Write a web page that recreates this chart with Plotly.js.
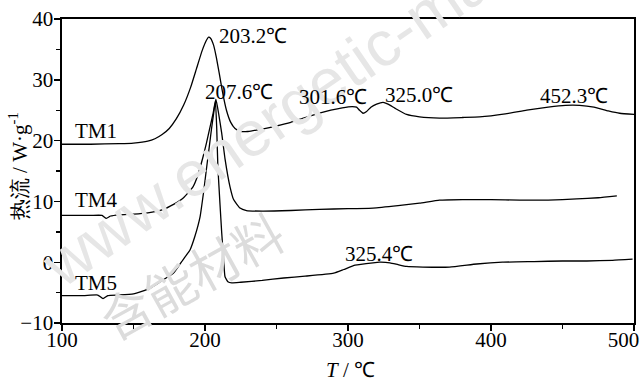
<!DOCTYPE html>
<html>
<head>
<meta charset="utf-8">
<script src="https://cdn.plot.ly/plotly-3.0.1.min.js"></script>
<style>html,body{margin:0;padding:0;background:#fff;}#chart{width:643px;height:383px;}</style>
</head>
<body>
<div id="chart"></div>
<script>
// TM1 curve
const tm1X = [100,120,140,150,160,165,170,175,180,185,190,194,198,201,202.5,204,206,208,210,212,215,218,221,225,230,240,250,260,270,280,288,296,303,306,308,310.5,313,316,320,324.5,328,333,341,350,364,380,392,410,425,440,452,462,472,482,490,500];
const tm1Y = [19.4,19.4,19.5,19.6,19.9,20.3,21.0,22.0,23.6,25.8,28.8,31.8,34.8,36.5,37.0,36.8,35.7,33.6,31.0,28.3,25.0,23.0,22.0,21.5,21.5,21.9,22.4,23.0,23.8,24.5,25.0,25.4,25.6,25.5,25.0,24.5,24.8,25.5,26.0,26.3,26.0,25.3,24.3,23.9,23.7,23.8,23.9,24.4,25.0,25.5,25.8,25.8,25.5,24.9,24.5,24.3];
// TM4 curve
const tm4X = [100,120,128,131,134,140,150,160,170,178,185,191.6,195,198.6,201,203.5,205.7,207.6,209.5,211.7,214,217.5,220,224.5,229,240,260,280,300,317.5,335,350,364,380,400,420,440,460,475,488];
const tm4Y = [7.7,7.7,7.7,7.2,7.6,7.8,7.9,8.1,8.6,9.5,10.6,12.4,14.3,17.3,19.6,22.2,24.5,26.8,24.5,21.2,17.0,12.4,10.3,8.9,8.5,8.4,8.5,8.7,8.8,8.9,9.3,9.7,10.2,10.3,10.3,10.2,10.2,10.4,10.6,10.9];
// TM5 curve
const tm5X = [100,115,125,128.7,132,140,150,161.5,170,178,184.6,189.5,193,196.5,199,201.2,203,204.7,206,207.3,208.2,209,210.5,211.7,213,214,216,218.7,225,240,255,270,290,297,305,317.5,322,329.4,335,341,352.4,371,390,408,430,450,467,485,499];
const tm5Y = [-5.5,-5.5,-5.4,-6.0,-5.5,-5.4,-5.2,-4.3,-3.0,-1.8,0.4,2.0,4.3,7.4,11.5,15.7,19.0,22.2,24.4,26.5,22.0,15.7,9.5,4.8,0.5,-2.4,-3.2,-3.4,-3.3,-3.0,-2.6,-2.3,-1.8,-1.2,-0.5,-0.1,0.0,-0.1,-0.4,-0.7,-0.8,-0.8,-0.3,0.0,0.1,0.2,0.2,0.3,0.5];

const seriesNames = ['TM1','TM4','TM5'];
const seriesLabelY = [21.6,10.2,-3.4];
const peakLabels = ['203.2℃','207.6℃','301.6℃','325.0℃','452.3℃','325.4℃'];
const peakLabelX = [208.4,198.6,264.3,324.5,432.9,296.5];
const peakLabelY = [37.2,28.0,27.2,27.5,27.3,1.35];
const xTickVals = [100,200,300,400,500];
const xTickText = ['100','200','300','400','500&nbsp;&nbsp;&nbsp;&nbsp;'];

const serif = 'Liberation Serif';
const lineStyle = {color:'#000', width:1.3, shape:'spline', smoothing:0.4};

const traces = [
  {x:tm1X, y:tm1Y, name:'TM1', mode:'lines', line:lineStyle},
  {x:tm4X, y:tm4Y, name:'TM4', mode:'lines', line:lineStyle},
  {x:tm5X, y:tm5Y, name:'TM5', mode:'lines', line:lineStyle}
];

const annotations = [];
// watermark
annotations.push({xref:'paper', yref:'paper', x:0.622, y:1.0, text:'www.energetic-materials.org.cn', showarrow:false, textangle:-34.4, font:{family:'Liberation Sans', size:64, color:'#e6e6e6'}, xanchor:'center', yanchor:'middle'});
annotations.push({xref:'paper', yref:'paper', x:0.2255, y:0.161, text:'含能材料', showarrow:false, textangle:-29, font:{family:'Noto Sans CJK SC', size:50, color:'#dcdcdc'}, xanchor:'center', yanchor:'middle'});

seriesNames.forEach((n,i)=>annotations.push({x:107.7, y:seriesLabelY[i], text:n, showarrow:false, xanchor:'left', yanchor:'middle', font:{family:serif, size:21, color:'#000'}}));
peakLabels.forEach((t,i)=>annotations.push({x:peakLabelX[i], y:peakLabelY[i], text:t, showarrow:false, xanchor:'left', yanchor:'middle', font:{family:serif, size:21, color:'#000'}}));
// axis titles
annotations.push({xref:'paper', yref:'paper', x:0.5035, y:-0.1546, text:'<i>T</i> / ℃', showarrow:false, xanchor:'center', yanchor:'middle', font:{family:serif, size:21, color:'#000'}});
annotations.push({xref:'paper', yref:'paper', x:-0.0769, y:0.516, text:'热流 / W·g<sup>-1</sup>', showarrow:false, textangle:-90, xanchor:'center', yanchor:'middle', font:{family:serif, size:21, color:'#000'}});

const axisCommon = {
  showline:true, linecolor:'#000', linewidth:1.6, mirror:true,
  ticks:'outside', ticklen:6, tickwidth:1.4, tickcolor:'#000',
  showgrid:false, zeroline:false,
  tickfont:{family:serif, size:21, color:'#000'}
};

const layout = {
  width:643, height:383,
  margin:{l:62, r:9, t:19, b:60},
  paper_bgcolor:'#fff', plot_bgcolor:'rgba(0,0,0,0)',
  showlegend:false,
  font:{family:serif, color:'#000'},
  xaxis:Object.assign({}, axisCommon, {range:[100,500], tickmode:'array', tickvals:xTickVals, ticktext:xTickText,
    ticklabelstandoff:-9, ticklabeloverflow:'allow',
    minor:{dtick:50, tick0:100, ticks:'outside', ticklen:4, tickwidth:1.4, tickcolor:'#000', showgrid:false}}),
  yaxis:Object.assign({}, axisCommon, {range:[-10,40], tick0:-10, dtick:10, ticklabelstandoff:-3,
    minor:{dtick:5, ticks:'outside', ticklen:4, tickwidth:1.4, tickcolor:'#000', showgrid:false}}),
  annotations:annotations
};

Plotly.newPlot('chart', traces, layout, {staticPlot:true, displayModeBar:false});
</script>
</body>
</html>
